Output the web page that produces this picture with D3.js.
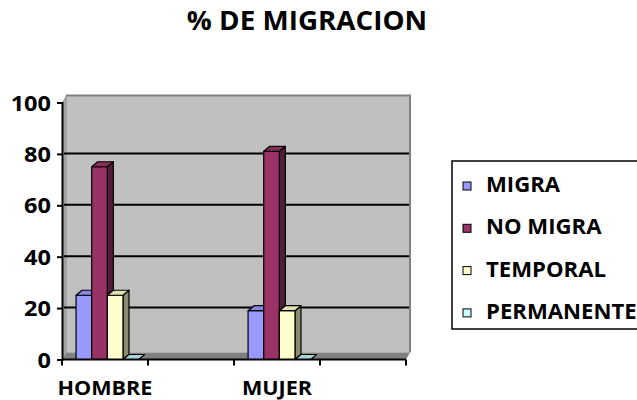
<!DOCTYPE html>
<html>
<head>
<meta charset="utf-8">
<script src="https://cdn.jsdelivr.net/npm/d3@7"></script>
<style>
  body { margin: 0; background: #fff; }
  text { font-family: "Open Sans", sans-serif; font-weight: bold; fill: #000; }
</style>
</head>
<body>
<svg id="chart" width="637" height="400"></svg>
<script>
// data
var categories = ["HOMBRE", "", "MUJER", ""];
var series = ["MIGRA", "NO MIGRA", "TEMPORAL", "PERMANENTE"];
var colors = ["#9999FF", "#993366", "#FFFFCC", "#CCFFFF"];
var migra = [25, 0, 19, 0];
var noMigra = [75, 0, 81, 0];
var temporal = [25, 0, 19, 0];
var permanente = [0, 0, 0, 0];
var yTicks = [0, 20, 40, 60, 80, 100];

var values = [migra, noMigra, temporal, permanente];
var svg = d3.select("#chart");

var x0 = 62, x1 = 406, yBase = 359.5, yTop = 102.5;
var wallDx = 4, wallDy = -7;
var barDx = 6, barDy = -5;

var x = d3.scaleBand().domain(d3.range(categories.length)).range([x0, x1]);
var xs = d3.scaleBand().domain(series).range([0, x.bandwidth()])
    .paddingInner(0).paddingOuter(0.75).align(0.6);
var y = d3.scaleLinear().domain([0, 100]).range([yBase, yTop]);

svg.append("rect").attr("width", 637).attr("height", 400).attr("fill", "#fff");

// title
svg.append("text")
    .attr("transform", "translate(307,30) scale(1.03,1)")
    .attr("text-anchor", "middle")
    .style("font-size", "27px")
    .text("% DE MIGRACION");

// walls
var wallTop = yTop - 7;
svg.append("polygon")
    .attr("points", [[x0, yTop], [x0 + wallDx, wallTop], [x0 + wallDx, yBase + wallDy], [x0, yBase]].join(" "))
    .attr("fill", "#a6a6a6");
svg.append("rect")
    .attr("x", x0 + wallDx).attr("y", wallTop)
    .attr("width", x1 - x0).attr("height", yBase + wallDy - wallTop)
    .attr("fill", "#C0C0C0");
svg.append("polyline")
    .attr("points", [[x0 + wallDx, wallTop], [x1 + wallDx, wallTop], [x1 + wallDx, yBase + wallDy]].join(" "))
    .attr("fill", "none").attr("stroke", "#808080").attr("stroke-width", 2);
svg.append("line")
    .attr("x1", x0 + wallDx).attr("x2", x0 + wallDx)
    .attr("y1", wallTop).attr("y2", yBase + wallDy)
    .attr("stroke", "#909090").attr("stroke-width", 1);
// floor
svg.append("polygon")
    .attr("points", [[x0, yBase], [x0 + wallDx, yBase + wallDy], [x1 + wallDx, yBase + wallDy], [x1, yBase]].join(" "))
    .attr("fill", "#808080");

// gridlines
svg.append("g").selectAll("line")
    .data(yTicks.filter(function (d) { return d > 0 && d < 100; }))
    .enter().append("line")
    .attr("x1", x0 + 2).attr("x2", x1 + wallDx - 1)
    .attr("y1", function (d) { return y(d) - 0.5; })
    .attr("y2", function (d) { return y(d) - 0.5; })
    .attr("stroke", "#000").attr("stroke-width", 2);

// bars
var bars = svg.append("g");
series.forEach(function (s, si) {
    var c = d3.color(colors[si]);
    var topC = c.darker(0.35).formatHex();
    var sideC = c.darker(1.7).formatHex();
    values[si].forEach(function (v, ci) {
        if (categories[ci] === "") return;
        var bx = x(ci) + xs(s), bw = xs.bandwidth(), by = y(v);
        var g = bars.append("g").attr("stroke", "#000").attr("stroke-width", 1.2).attr("stroke-linejoin", "round");
        if (v > 0) {
            g.append("polygon")
                .attr("points", [[bx + bw, by], [bx + bw + barDx, by + barDy], [bx + bw + barDx, yBase + barDy], [bx + bw, yBase]].join(" "))
                .attr("fill", sideC);
            g.append("rect").attr("x", bx).attr("y", by).attr("width", bw).attr("height", yBase - by)
                .attr("fill", colors[si]);
        }
        g.append("polygon")
            .attr("points", [[bx, by], [bx + barDx, by + barDy], [bx + bw + barDx, by + barDy], [bx + bw, by]].join(" "))
            .attr("fill", v > 0 ? topC : c.darker(0.5).formatHex());
    });
});

// y axis
var yAxis = svg.append("g")
    .attr("transform", "translate(" + x0 + ",0)")
    .call(d3.axisLeft(y).tickValues(yTicks).tickSize(5).tickPadding(6));
yAxis.select(".domain").attr("stroke", "#000").attr("stroke-width", 2);
yAxis.selectAll(".tick line").attr("stroke", "#000").attr("stroke-width", 2);
yAxis.selectAll(".tick text")
    .style("font-size", "21px")
    .attr("dy", "0.36em")
    .attr("transform", "scale(1.12,1)")
    .attr("x", -11 / 1.12);

// x axis line and ticks at band edges
svg.append("line")
    .attr("x1", x0).attr("x2", x1).attr("y1", yBase).attr("y2", yBase)
    .attr("stroke", "#000").attr("stroke-width", 2);
svg.append("g").selectAll("line")
    .data(d3.range(categories.length + 1))
    .enter().append("line")
    .attr("x1", function (i) { return x0 + i * x.step(); })
    .attr("x2", function (i) { return x0 + i * x.step(); })
    .attr("y1", yBase).attr("y2", yBase + 6)
    .attr("stroke", "#000").attr("stroke-width", 2);
svg.append("g").selectAll("text")
    .data(d3.range(categories.length))
    .enter().append("text")
    .attr("transform", function (i) { return "translate(" + (x(i) + x.bandwidth() / 2) + ",395) scale(1.08,1)"; })
    .attr("text-anchor", "middle")
    .style("font-size", "20px")
    .text(function (i) { return categories[i]; });

// legend
var lg = svg.append("g");
lg.append("rect")
    .attr("x", 452).attr("y", 161).attr("width", 220).attr("height", 168)
    .attr("fill", "#fff").attr("stroke", "#000").attr("stroke-width", 1.5);
var item = lg.selectAll("g.item").data(series).enter().append("g")
    .attr("class", "item")
    .attr("transform", function (d, i) { return "translate(0," + (192 + i * 42.3) + ")"; });
item.append("rect")
    .attr("x", 463).attr("y", -10).attr("width", 8).attr("height", 8)
    .attr("fill", function (d, i) { return colors[i]; })
    .attr("stroke", "#000").attr("stroke-width", 1);
item.append("text")
    .attr("transform", "translate(486,0) scale(1.08,1)")
    .style("font-size", "20.5px")
    .text(function (d) { return d; });
</script>
</body>
</html>
